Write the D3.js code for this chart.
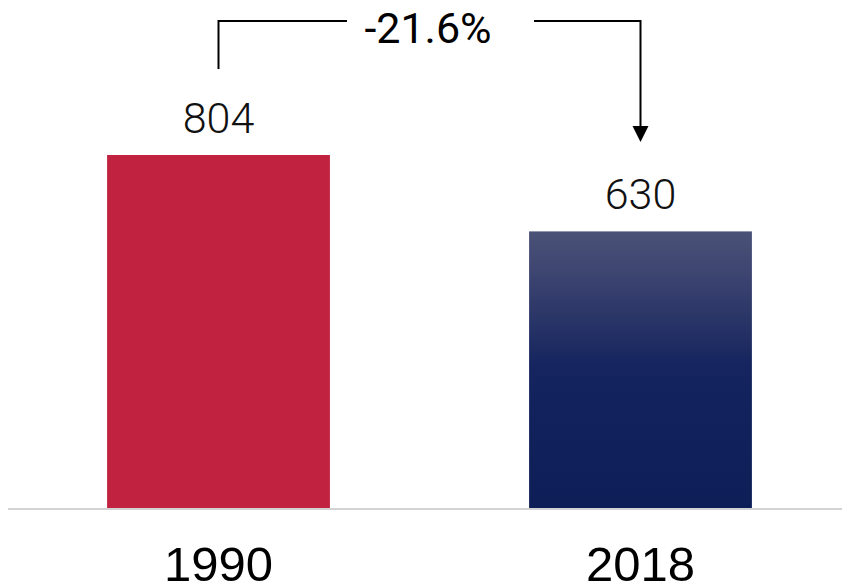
<!DOCTYPE html>
<html>
<head>
<meta charset="utf-8">
<script src="https://cdn.jsdelivr.net/npm/d3@7"></script>
<style>
  html, body { margin: 0; padding: 0; background: #fff; }
  svg { display: block; }
</style>
</head>
<body>
<svg id="chart" width="842" height="584"></svg>
<script>
const categories = ["1990", "2018"];
const values = [804, 630];
const changeLabel = "-21.6%";

const svg = d3.select("#chart");
const W = 842, H = 584;
const baseY = 508, topY = 155;

const x = d3.scaleBand()
  .domain(categories)
  .range([17, 842])
  .paddingInner(0.472)
  .paddingOuter(0.2135);

const y = d3.scaleLinear()
  .domain([0, d3.max(values)])
  .range([baseY, topY]);

const defs = svg.append("defs");
const grad = defs.append("linearGradient")
  .attr("id", "navyGrad")
  .attr("x1", 0).attr("y1", 0).attr("x2", 0).attr("y2", 1);
[[0, "#4b5277"], [0.15, "#3d4571"], [0.3, "#2c3768"], [0.48, "#16255f"], [0.6, "#12225c"], [1, "#0e1f58"]]
  .forEach(([o, c]) => grad.append("stop").attr("offset", o).attr("stop-color", c));

const fills = ["#c0223f", "url(#navyGrad)"];

svg.selectAll("rect.bar")
  .data(categories)
  .join("rect")
  .attr("class", "bar")
  .attr("x", d => x(d))
  .attr("width", x.bandwidth())
  .attr("y", (d, i) => y(values[i]))
  .attr("height", (d, i) => y(0) - y(values[i]))
  .attr("fill", (d, i) => fills[i]);

// baseline
svg.append("line")
  .attr("x1", 8).attr("x2", W)
  .attr("y1", y(0) + 1).attr("y2", y(0) + 1)
  .attr("stroke", "#d3d3d3")
  .attr("stroke-width", 2);

// value labels
svg.selectAll("text.val")
  .data(categories)
  .join("text")
  .attr("class", "val")
  .attr("x", d => x(d) + x.bandwidth() / 2)
  .attr("y", (d, i) => y(values[i]) - 22)
  .attr("text-anchor", "middle")
  .attr("font-family", "Roboto, 'Open Sans', sans-serif")
  .attr("font-weight", 300)
  .attr("font-size", 43)
  .attr("fill", "#111")
  .text((d, i) => values[i]);

// category labels
svg.selectAll("text.cat")
  .data(categories)
  .join("text")
  .attr("class", "cat")
  .attr("x", d => x(d) + x.bandwidth() / 2)
  .attr("y", 581)
  .attr("text-anchor", "middle")
  .attr("font-family", "'Liberation Sans', Arial, sans-serif")
  .attr("font-size", 49)
  .attr("fill", "#000")
  .text(d => d);

// change annotation
const xl = x(categories[0]) + x.bandwidth() / 2;
const xr = x(categories[1]) + x.bandwidth() / 2;
const lineY = 21;
const g = svg.append("g").attr("stroke", "#000").attr("stroke-width", 2).attr("fill", "none");
g.append("path").attr("d", `M${xl},69 V${lineY} H347`);
g.append("path").attr("d", `M534,${lineY} H${xr} V127`);
svg.append("path")
  .attr("d", `M${xr - 8},126 L${xr + 8},126 L${xr},142 Z`)
  .attr("fill", "#000");

svg.append("text")
  .attr("x", 428)
  .attr("y", 43)
  .attr("text-anchor", "middle")
  .attr("font-family", "Roboto, 'Open Sans', sans-serif")
  .attr("font-weight", 400)
  .attr("font-size", 43)
  .attr("fill", "#000")
  .text(changeLabel);
</script>
</body>
</html>
